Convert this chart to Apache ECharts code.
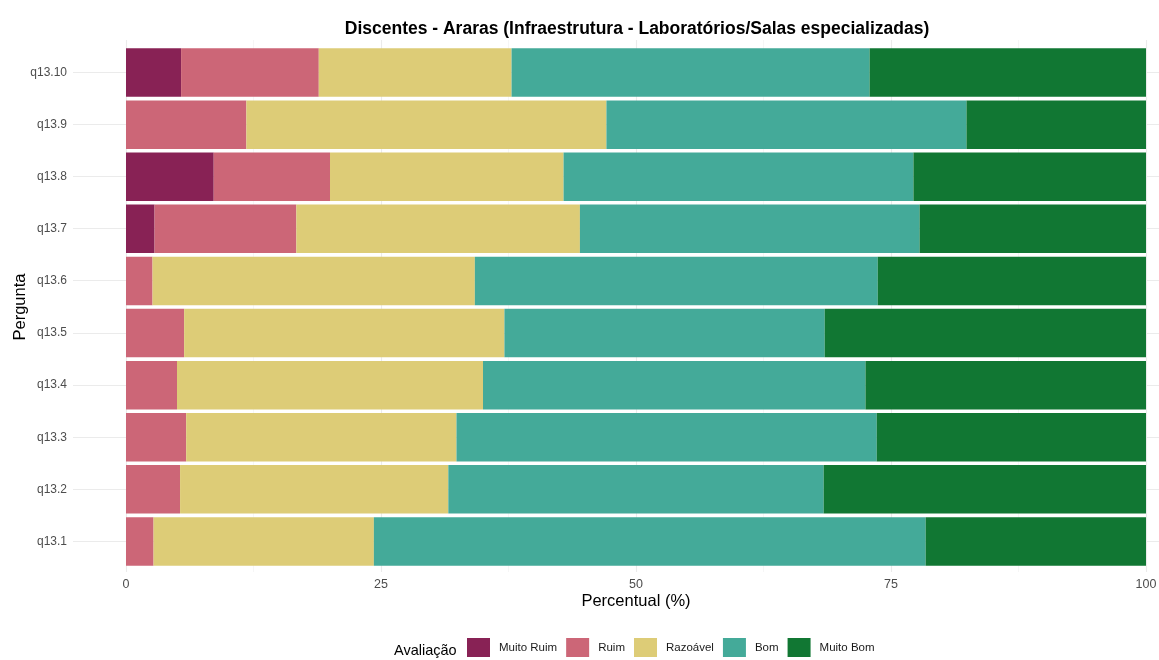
<!DOCTYPE html>
<html><head><meta charset="utf-8">
<script src="https://cdn.jsdelivr.net/npm/echarts@6/dist/echarts.min.js"></script>
<style>html,body{margin:0;padding:0;background:#fff}#c{width:1159px;height:660px}</style>
</head><body><div id="c"></div>
<script>
const titleText = 'Discentes - Araras (Infraestrutura - Laboratórios/Salas especializadas)';
const categories = ['q13.1','q13.2','q13.3','q13.4','q13.5','q13.6','q13.7','q13.8','q13.9','q13.10'];
const seriesNames = ['Muito Ruim','Ruim','Razoável','Bom','Muito Bom'];
const muitoRuim = [0, 0, 0, 0, 0, 0, 2.8, 8.6, 0, 5.4];
const ruim      = [2.7, 5.3, 5.9, 5.0, 5.7, 2.6, 13.9, 11.4, 11.8, 13.5];
const razoavel  = [21.6, 26.3, 26.5, 30.0, 31.4, 31.6, 27.8, 22.9, 35.3, 18.9];
const bom       = [54.1, 36.8, 41.2, 37.5, 31.4, 39.5, 33.3, 34.3, 35.3, 35.1];
const muitoBom  = [21.6, 31.6, 26.4, 27.5, 31.5, 26.3, 22.2, 22.8, 17.6, 27.1];
const xTicks = [0, 25, 50, 75, 100];
const colors = ['#882255', '#CC6677', '#DDCC77', '#44AA99', '#117733'];

const seriesData = [muitoRuim, ruim, razoavel, bom, muitoBom];
const font = '"Liberation Sans", Arial, sans-serif';

const chart = echarts.init(document.getElementById('c'), null, {renderer: 'canvas'});
chart.setOption({
  animation: false,
  backgroundColor: '#ffffff',
  textStyle: {fontFamily: font},
  title: {
    text: titleText,
    left: 632, top: 15, textAlign: 'center',
    textStyle: {fontSize: 17.5, fontWeight: 'bold', color: '#000', fontFamily: font}
  },
  legend: {
    data: seriesNames,
    left: 462, top: 633,
    itemWidth: 23, itemHeight: 19, itemGap: 9,
    icon: 'rect',
    selectedMode: false,
    textStyle: {fontSize: 11.5, color: '#1a1a1a', fontFamily: font, padding: [0, 0, 0, 4]}
  },
  graphic: [{
    type: 'text', left: 394, top: 643,
    style: {text: 'Avaliação', fontSize: 14.5, fill: '#000', fontFamily: font}
  }],
  grid: [
    {left: 126, right: 13, top: 46.5, bottom: 92.5, outerBoundsMode: 'none', containLabel: false},
    {left: 126, right: 13, top: 40, bottom: 88, outerBoundsMode: 'none', containLabel: false},
    {left: 73, right: 0, top: 72.5, bottom: 119, outerBoundsMode: 'none', containLabel: false}
  ],
  xAxis: [
    {gridIndex: 0, type: 'value', min: xTicks[0], max: xTicks[xTicks.length - 1], interval: 25,
     axisLine: {show: false}, axisTick: {show: false}, splitLine: {show: false},
     axisLabel: {color: '#4d4d4d', fontSize: 12.5, margin: 11, fontFamily: font},
     name: 'Percentual (%)', nameLocation: 'middle', nameGap: 25, nameMoveOverlap: false,
     nameTextStyle: {fontSize: 16.5, color: '#000', fontFamily: font}},
    {gridIndex: 1, type: 'value', min: 0, max: 100, interval: 25,
     axisLine: {show: false}, axisTick: {show: false}, axisLabel: {show: false},
     splitLine: {show: true, lineStyle: {color: '#ebebeb', width: 1.1}},
     minorTick: {show: false, splitNumber: 2},
     minorSplitLine: {show: true, lineStyle: {color: '#f2f2f2', width: 0.7}}},
    {gridIndex: 2, type: 'value', min: 0, max: 1, show: false}
  ],
  yAxis: [
    {gridIndex: 0, type: 'category', data: categories,
     axisLine: {show: false}, axisTick: {show: false}, splitLine: {show: false},
     axisLabel: {color: '#4d4d4d', fontSize: 12, margin: 59, fontFamily: font},
     name: 'Pergunta', nameLocation: 'middle', nameGap: 97, nameMoveOverlap: false,
     nameTextStyle: {fontSize: 16.5, color: '#000', fontFamily: font}},
    {gridIndex: 1, type: 'value', min: 0, max: 1, show: false},
    {gridIndex: 2, type: 'category', data: categories, boundaryGap: false,
     axisLine: {show: false}, axisTick: {show: false, interval: 0}, axisLabel: {show: false, interval: 0},
     splitLine: {show: true, interval: 0, showMinLine: true, showMaxLine: true, lineStyle: {color: '#ebebeb', width: 1.1}}}
  ],
  series: seriesNames.map((name, i) => ({
    name: name, type: 'bar', stack: 'total',
    xAxisIndex: 0, yAxisIndex: 0,
    barCategoryGap: '7%',
    itemStyle: {color: colors[i]},
    emphasis: {disabled: true},
    data: seriesData[i]
  }))
});
</script>
</body></html>
